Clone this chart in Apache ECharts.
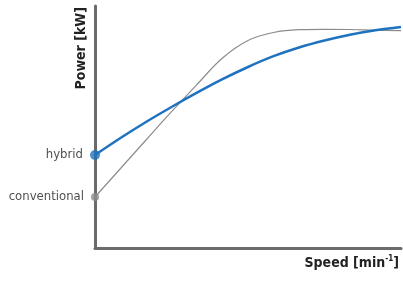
<!DOCTYPE html>
<html>
<head>
<meta charset="utf-8">
<script src="https://cdn.jsdelivr.net/npm/echarts@6/dist/echarts.min.js"></script>
<style>html,body{margin:0;padding:0;background:#fff}#c{width:403px;height:281px}</style>
</head>
<body>
<div id="c"></div>
<script>
// Speed (arbitrary units) and power (arbitrary units)
var speed = [0, 25.5, 51, 76.5, 102, 127.5, 153, 178.5, 204, 229.5, 255, 280.5, 306];
var hybridPower = [93, 110, 126, 141, 155.3, 168.8, 181, 191.8, 200.5, 207.5, 213.3, 217.7, 221];
var convPower = [51, 79.5, 108, 136.3, 163.5, 190, 207.5, 215.5, 218.3, 218.7, 218.5, 217.8, 217.3];
var startLabels = ['hybrid', 'conventional'];
var startPower = [93, 51];

var FONT = '"Liberation Sans Narrow","DejaVu Sans Condensed",sans-serif';
function pairs(xs, ys){ return xs.map(function(x,i){ return [x, ys[i]]; }); }

var chart = echarts.init(document.getElementById('c'), null, {renderer:'canvas'});
chart.setOption({
  animation: false,
  grid: {left: 95, right: 2, top: 6, bottom: 33},
  xAxis: {
    type: 'value', min: 0, max: 306,
    axisLine: {show: true, onZero: false, lineStyle: {color: '#6b6b6b', width: 3}},
    axisTick: {show: false}, axisLabel: {show: false}, splitLine: {show: false}
  },
  yAxis: {
    type: 'value', min: 0, max: 242,
    axisLine: {show: true, onZero: false, lineStyle: {color: '#6b6b6b', width: 3}},
    axisTick: {show: false}, axisLabel: {show: false}, splitLine: {show: false}
  },
  series: [
    {
      type: 'line', data: pairs(speed, convPower), smooth: 0.4, symbol: 'none',
      lineStyle: {color: '#8c8c8c', width: 1.2}, z: 2
    },
    {
      type: 'line', data: pairs(speed, hybridPower), smooth: 0.35, symbol: 'none',
      lineStyle: {color: '#1f72bf', width: 2.5}, z: 3
    },
    {
      type: 'scatter', z: 5,
      data: [
        {value: [0, startPower[0]], name: startLabels[0], symbolSize: 10, itemStyle: {color: '#1f72bf'}},
        {value: [0, startPower[1]], name: startLabels[1], symbolSize: 8, itemStyle: {color: '#8c8c8c'}}
      ],
      label: {
        show: true, position: 'left', distance: 7, formatter: '{b}',
        color: '#222', fontFamily: FONT, fontSize: 13
      }
    }
  ],
  graphic: [
    {
      type: 'text', x: 74, y: 7, rotation: Math.PI/2,
      style: {text: 'Power [kW]', fontFamily: FONT, fontWeight: 'bold', fontSize: 14,
              fill: '#222', align: 'right', verticalAlign: 'top'}
    },
    {
      type: 'text', right: 4, top: 255,
      style: {
        rich: {
          a: {fontFamily: FONT, fontWeight: 'bold', fontSize: 14, fill: '#222', lineHeight: 16},
          b: {fontFamily: FONT, fontWeight: 'bold', fontSize: 8, fill: '#222', verticalAlign: 'top', lineHeight: 16}
        },
        text: '{a|Speed [min}{b|-1}{a|]}', fill: '#222'
      }
    }
  ]
});
</script>
</body>
</html>
